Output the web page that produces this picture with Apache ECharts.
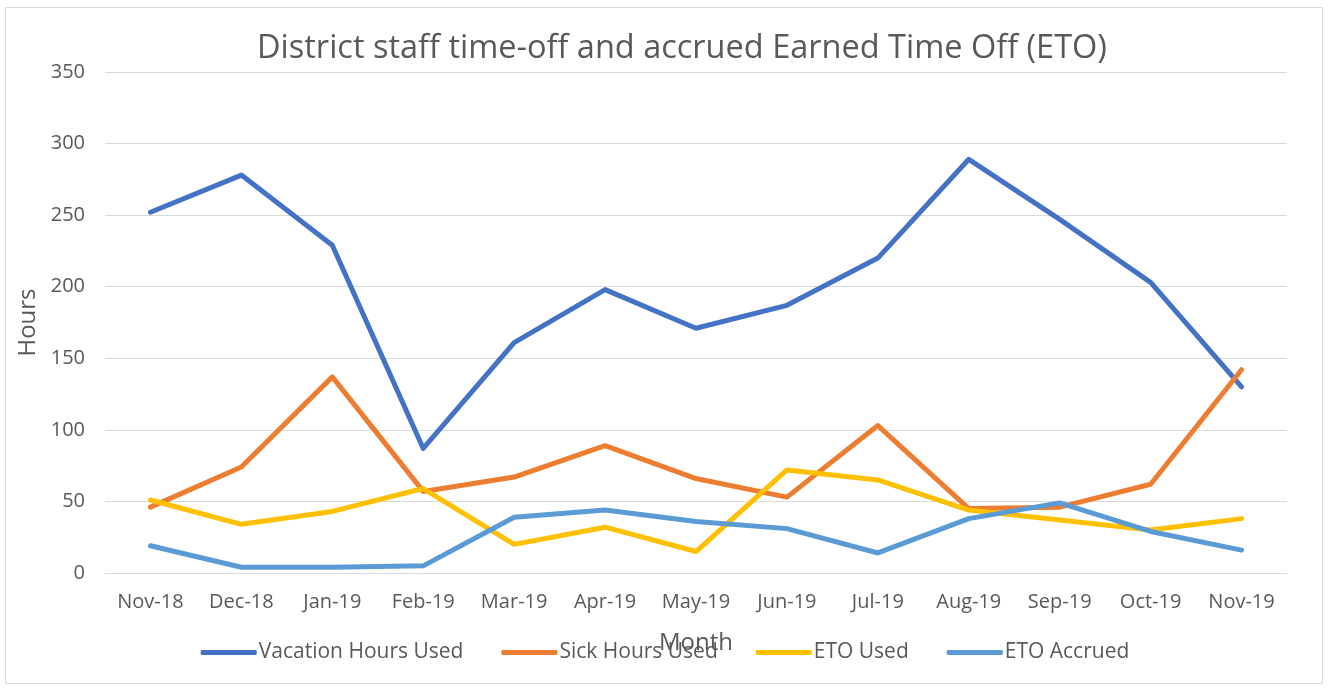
<!DOCTYPE html>
<html>
<head>
<meta charset="utf-8">
<script src="https://cdn.jsdelivr.net/npm/echarts@6/dist/echarts.min.js"></script>
<style>
html,body{margin:0;padding:0;background:#fff;}
#chart{width:1330px;height:690px;}
</style>
</head>
<body>
<div id="chart"></div>
<script>
const categories = ["Nov-18","Dec-18","Jan-19","Feb-19","Mar-19","Apr-19","May-19","Jun-19","Jul-19","Aug-19","Sep-19","Oct-19","Nov-19"];
const vacationHoursUsed = [252, 278, 229, 87, 161, 198, 171, 187, 220, 289, 247, 203, 130];
const sickHoursUsed = [46, 74, 137, 57, 67, 89, 66, 53, 103, 45, 46, 62, 142];
const etoUsed = [51, 34, 43, 59, 20, 32, 15, 72, 65, 44, 37, 30, 38];
const etoAccrued = [19, 4, 4, 5, 39, 44, 36, 31, 14, 38, 49, 29, 16];
const seriesNames = ["Vacation Hours Used","Sick Hours Used","ETO Used","ETO Accrued"];
const colors = ["#4472C4","#ED7D31","#FFC000","#5B9BD5"];

const FONT = "'Open Sans', sans-serif";
const TXT = "#595959";

const chart = echarts.init(document.getElementById('chart'), null, {renderer:'canvas'});
const data = [vacationHoursUsed, sickHoursUsed, etoUsed, etoAccrued];
chart.setOption({
  animation:false,
  textStyle:{fontFamily:FONT},
  color: colors,
  graphic:[{type:'rect', shape:{x:5.5,y:7.5,width:1317,height:676}, style:{fill:'none', stroke:'#d9d9d9', lineWidth:1}, silent:true, z:-1}],
  title:{text:"District staff time-off and accrued Earned Time Off (ETO)", left:252, top:27,
    textStyle:{fontFamily:FONT, fontSize:32.5, fontWeight:'normal', color:TXT}},
  grid:{left:105, right:43, top:72, bottom:117},
  legend:{data:seriesNames, bottom:22, left:'center', itemWidth:56, itemHeight:5, itemGap:38, icon:'roundRect',
    textStyle:{fontFamily:FONT, fontSize:21, color:TXT, padding:[0,0,0,-3]}},
  xAxis:{type:'category', data:categories, boundaryGap:true,
    name:'Month', nameLocation:'middle', nameGap:58, nameTextStyle:{fontFamily:FONT, fontSize:24, color:TXT},
    axisLine:{lineStyle:{color:'#d9d9d9', width:1}}, axisTick:{show:false},
    axisLabel:{color:TXT, fontSize:20, margin:19, fontFamily:FONT, interval:0}},
  yAxis:{type:'value', min:0, max:350, interval:50,
    name:'Hours', nameLocation:'middle', nameRotate:90, nameGap:65, nameTextStyle:{fontFamily:FONT, fontSize:24, color:TXT},
    axisLine:{show:false}, axisTick:{show:false},
    splitLine:{lineStyle:{color:'#d9d9d9', width:1}},
    axisLabel:{color:TXT, fontSize:20, margin:20, fontFamily:FONT}},
  series: seriesNames.map((n,i)=>({name:n, type:'line', data:data[i], symbol:'none',
    lineStyle:{width:5, color:colors[i], cap:'round', join:'round'}, itemStyle:{color:colors[i]}}))
});
</script>
</body>
</html>
